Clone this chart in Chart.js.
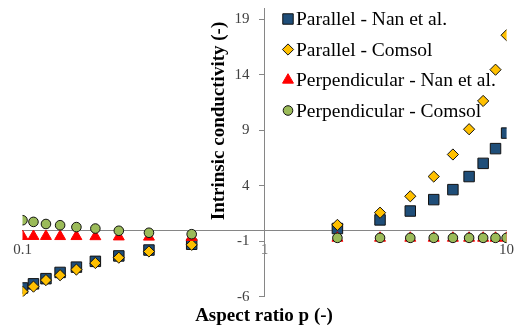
<!DOCTYPE html>
<html>
<head>
<meta charset="utf-8">
<script src="https://cdn.jsdelivr.net/npm/chart.js@4/dist/chart.umd.min.js"></script>
<style>
  html, body { margin: 0; padding: 0; background: #fff; }
  #wrap { width: 515px; height: 331px; position: relative; }
</style>
</head>
<body>
<div id="wrap"><canvas id="chartAspect"></canvas></div>
<script>
// Aspect ratio p (log axis) and the four series
const aspectRatio = [0.1, 0.111, 0.125, 0.143, 0.167, 0.2, 0.25, 0.333, 0.5, 2, 3, 4, 5, 6, 7, 8, 9, 10];
const parallelNan = [-5.22, -4.85, -4.38, -3.82, -3.34, -2.82, -2.33, -1.8, -1.28, 0.14, 0.92, 1.72, 2.75, 3.65, 4.83, 6.02, 7.35, 8.75];
const parallelComsol = [-5.55, -5.1, -4.51, -4.07, -3.56, -2.97, -2.49, -1.93, -1.33, 0.47, 1.57, 3.05, 4.83, 6.82, 9.1, 11.65, 14.47, 17.58];
const perpNan = [-0.56, -0.56, -0.56, -0.57, -0.57, -0.58, -0.6, -0.62, -0.65, -0.72, -0.72, -0.72, -0.72, -0.72, -0.72, -0.72, -0.72, -0.72];
const perpComsol = [0.89, 0.74, 0.55, 0.44, 0.27, 0.14, -0.06, -0.24, -0.37, -0.7, -0.7, -0.7, -0.7, -0.7, -0.7, -0.7, -0.7, -0.7];
const seriesNames = ['Parallel - Nan et al.', 'Parallel - Comsol', 'Perpendicular - Nan et al.', 'Perpendicular - Comsol'];
const xTicks = [0.1, 1, 10];
const yTicks = [-6, -1, 4, 9, 14, 19];

const serif = "'Times New Roman', 'Liberation Serif', serif";
const axisColor = '#868686';

function toPoints(ys) {
    return aspectRatio.map((x, i) => ({ x: x, y: ys[i] }));
}

// legend + axis titles drawn on top, like the Excel original
const extras = {
    id: 'extras',
    beforeDraw(chart) {
        // y axis sits at x = 1, chart.js puts its labels right on the line -> push them left
        const items = chart.scales.y.getLabelItems(chart.chartArea);
        if (!items._shifted) {
            items.forEach(it => { it.options.translation[0] -= 15; });
            items._shifted = true;
        }
    },
    afterDraw(chart) {
        const ctx = chart.ctx;
        ctx.save();
        ctx.fillStyle = '#000';
        ctx.font = 'bold 19px ' + serif;
        ctx.textAlign = 'center';
        ctx.textBaseline = 'middle';
        ctx.fillText('Aspect ratio p (-)', 264, 316);
        ctx.translate(219, 121);
        ctx.rotate(-Math.PI / 2);
        ctx.fillText('Intrinsic conductivity (-)', 0, 0);
        ctx.restore();

        ctx.save();
        ctx.font = '19.5px ' + serif;
        ctx.textBaseline = 'middle';
        ctx.textAlign = 'left';
        chart.data.datasets.forEach((ds, i) => {
            const y = 19 + i * 30.5;
            ctx.fillStyle = ds.backgroundColor;
            ctx.strokeStyle = ds.borderColor;
            ctx.lineWidth = ds.borderWidth;
            Chart.helpers.drawPoint(ctx, {
                pointStyle: ds.pointStyle,
                radius: ds.pointRadius,
                rotation: 0,
                borderWidth: ds.borderWidth
            }, 288, y);
            ctx.fillStyle = '#000';
            ctx.fillText(ds.label, 296, y + 1);
        });
        ctx.restore();
    }
};

new Chart(document.getElementById('chartAspect'), {
    type: 'scatter',
    data: {
        datasets: [{
            label: seriesNames[0],
            data: toPoints(parallelNan),
            pointStyle: 'rect',
            pointRadius: 7.4,
            backgroundColor: '#1F4E79',
            borderColor: '#111',
            borderWidth: 1,
            order: 4
        }, {
            label: seriesNames[1],
            data: toPoints(parallelComsol),
            pointStyle: 'rectRot',
            pointRadius: 5.6,
            backgroundColor: '#FFC000',
            borderColor: '#111',
            borderWidth: 1,
            order: 3
        }, {
            label: seriesNames[2],
            data: toPoints(perpNan),
            pointStyle: 'triangle',
            pointRadius: 6.3,
            backgroundColor: '#FF0000',
            borderColor: '#FF0000',
            borderWidth: 1,
            order: 2
        }, {
            label: seriesNames[3],
            data: toPoints(perpComsol),
            pointStyle: 'circle',
            pointRadius: 4.8,
            backgroundColor: '#9BBB59',
            borderColor: '#111',
            borderWidth: 1,
            order: 1
        }]
    },
    options: {
        responsive: true,
        maintainAspectRatio: false,
        animation: false,
        layout: { padding: { left: 22.5, right: 7.5, top: 4.5, bottom: 34.4 } },
        plugins: {
            legend: { display: false },
            tooltip: { enabled: false }
        },
        scales: {
            x: {
                type: 'logarithmic',
                min: 0.1,
                max: 10,
                position: { y: 0 },
                afterBuildTicks: (axis) => { axis.ticks = xTicks.map(v => ({ value: v })); },
                afterFit: (axis) => { axis.paddingLeft = 0; axis.paddingRight = 0; },
                grid: { display: false, drawTicks: false },
                border: { display: true, color: axisColor, width: 1 },
                ticks: {
                    padding: 11,
                    color: '#404040',
                    font: { family: serif, size: 15 },
                    callback: (v) => String(v),
                    maxRotation: 0,
                    autoSkip: false
                }
            },
            y: {
                type: 'linear',
                min: -6,
                max: 20,
                position: { x: 1 },
                afterBuildTicks: (axis) => { axis.ticks = yTicks.map(v => ({ value: v })); },
                afterFit: (axis) => { axis.paddingTop = 0; axis.paddingBottom = 0; },
                grid: { drawOnChartArea: false, drawTicks: true, tickLength: 5, color: axisColor },
                border: { display: true, color: axisColor, width: 1 },
                ticks: {
                    padding: 10,
                    color: '#404040',
                    font: { family: serif, size: 15 },
                    autoSkip: false
                }
            }
        }
    },
    plugins: [extras]
});
</script>
</body>
</html>
